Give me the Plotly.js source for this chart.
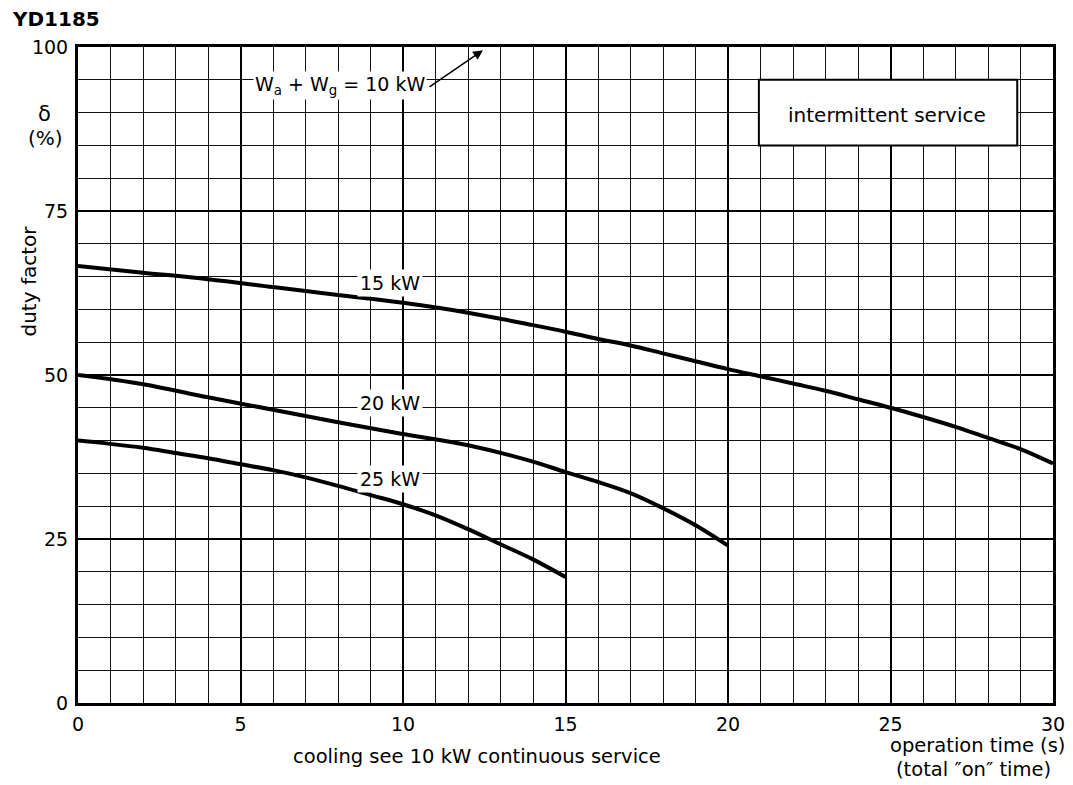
<!DOCTYPE html>
<html>
<head>
<meta charset="utf-8">
<script src="https://cdn.plot.ly/plotly-3.0.1.min.js"></script>
<style>html,body{margin:0;padding:0;background:#fff;}#chart{width:1073px;height:785px;}</style>
</head>
<body>
<div id="chart"></div>
<script>
// operation time (s) and duty factor (%) per curve
const seriesNames = ["15 kW", "20 kW", "25 kW"];
const time15 = [0, 2, 4, 6, 8, 10, 12, 14, 15, 16, 17, 18, 19, 20, 21, 22, 23, 24, 25, 26, 27, 28, 29, 30];
const duty15 = [66.6, 65.6, 64.6, 63.4, 62.2, 61.0, 59.5, 57.6, 56.6, 55.5, 54.5, 53.3, 52.1, 50.9, 49.8, 48.7, 47.6, 46.3, 45.0, 43.6, 42.1, 40.4, 38.7, 36.5];
const time20 = [0, 2, 4, 6, 8, 10, 12, 14, 15, 16, 17, 18, 19, 20];
const duty20 = [50.0, 48.6, 46.6, 44.7, 42.8, 41.0, 39.3, 36.8, 35.2, 33.7, 32.0, 29.7, 27.1, 24.0];
const time25 = [0, 1, 2, 3, 4, 5, 6, 7, 8, 9, 10, 11, 12, 13, 14, 15];
const duty25 = [40.0, 39.5, 38.9, 38.1, 37.3, 36.4, 35.5, 34.4, 33.1, 31.7, 30.3, 28.6, 26.5, 24.2, 21.9, 19.2];
const xTickVals = [0, 5, 10, 15, 20, 25, 30];
const yTickVals = [0, 25, 50, 75, 100];

const FONT = "DejaVu Sans";
const lineStyle = {color: "black", width: 4, shape: "spline", smoothing: 1};

const traces = [
  {x: time15, y: duty15, name: seriesNames[0], mode: "lines", line: lineStyle},
  {x: time20, y: duty20, name: seriesNames[1], mode: "lines", line: lineStyle},
  {x: time25, y: duty25, name: seriesNames[2], mode: "lines", line: lineStyle}
];

function pxX(px){ return (px - 78) / 975; }
function pxY(py){ return (703 - py) / 656; }

const layout = {
  width: 1073, height: 785,
  margin: {l: 78, r: 20, t: 47, b: 82, pad: 0},
  paper_bgcolor: "white", plot_bgcolor: "white",
  showlegend: false,
  font: {family: FONT, size: 19, color: "black"},
  xaxis: {
    range: [0, 30], tickvals: xTickVals, ticktext: xTickVals.map(String),
    showgrid: true, gridcolor: "black", gridwidth: 2,
    minor: {dtick: 1, tick0: 0, showgrid: true, gridcolor: "#111", gridwidth: 1},
    showline: true, mirror: true, linecolor: "black", linewidth: 3,
    zeroline: false, ticks: "", ticklabelstandoff: 2,
    tickfont: {family: FONT, size: 19, color: "black"}, fixedrange: true
  },
  yaxis: {
    range: [0, 100], tickvals: yTickVals, ticktext: yTickVals.map(String),
    showgrid: true, gridcolor: "black", gridwidth: 2,
    minor: {dtick: 5, tick0: 0, showgrid: true, gridcolor: "#111", gridwidth: 1},
    showline: true, mirror: true, linecolor: "black", linewidth: 3,
    zeroline: false, ticks: "", ticklabelstandoff: 3,
    tickfont: {family: FONT, size: 19, color: "black"}, fixedrange: true
  },
  shapes: [
    {type: "rect", xref: "x", yref: "y", x0: 20.95, x1: 28.9, y0: 85, y1: 95,
     fillcolor: "white", line: {color: "black", width: 2}, layer: "above"}
  ],
  annotations: [
    {xref: "paper", yref: "paper", x: pxX(10), y: pxY(19.5), xanchor: "left", yanchor: "middle",
     text: "<b>YD1185</b>", showarrow: false, font: {family: FONT, size: 20, color: "black"}},
    {xref: "paper", yref: "paper", x: pxX(44), y: pxY(114), xanchor: "center", yanchor: "middle",
     text: "δ", showarrow: false, font: {family: FONT, size: 21}},
    {xref: "paper", yref: "paper", x: pxX(45.5), y: pxY(138), xanchor: "center", yanchor: "middle",
     text: "(%)", showarrow: false, font: {family: FONT, size: 20}},
    {xref: "paper", yref: "paper", x: pxX(28.5), y: pxY(281), xanchor: "center", yanchor: "middle",
     text: "duty factor", textangle: -90, showarrow: false, font: {family: FONT, size: 20}},
    {xref: "paper", yref: "paper", x: pxX(477), y: pxY(756), xanchor: "center", yanchor: "middle",
     text: "cooling see 10 kW continuous service", showarrow: false, font: {family: FONT, size: 19.5}},
    {xref: "paper", yref: "paper", x: pxX(1067), y: pxY(746), xanchor: "right", yanchor: "middle",
     text: "operation time (s)", showarrow: false, font: {family: FONT, size: 19.5}},
    {xref: "paper", yref: "paper", x: pxX(973), y: pxY(769), xanchor: "center", yanchor: "middle",
     text: "(total ″on″ time)", showarrow: false, font: {family: FONT, size: 19.5}},
    {xref: "x", yref: "y", x: 24.9, y: 89.6, xanchor: "center", yanchor: "middle",
     text: "intermittent service", showarrow: false, font: {family: FONT, size: 20}},
    {xref: "x", yref: "y", x: 9.6, y: 64.0, xanchor: "center", yanchor: "middle",
     text: "15 kW", showarrow: false, bgcolor: "white", borderpad: 2, font: {family: FONT, size: 19}},
    {xref: "x", yref: "y", x: 9.6, y: 45.7, xanchor: "center", yanchor: "middle",
     text: "20 kW", showarrow: false, bgcolor: "white", borderpad: 2, font: {family: FONT, size: 19}},
    {xref: "x", yref: "y", x: 9.6, y: 34.1, xanchor: "center", yanchor: "middle",
     text: "25 kW", showarrow: false, bgcolor: "white", borderpad: 2, font: {family: FONT, size: 19}},
    {xref: "x", yref: "y", x: 10.75, y: 94.1, xanchor: "right", yanchor: "middle",
     text: "W<sub>a</sub> + W<sub>g</sub> = 10 kW", showarrow: false, bgcolor: "white", borderpad: 1,
     font: {family: FONT, size: 19}},
    {xref: "x", yref: "y", x: 12.46, y: 99.5, axref: "x", ayref: "y", ax: 10.77, ay: 93.75,
     text: "", showarrow: true, arrowhead: 2, arrowsize: 1.3, arrowwidth: 1.5, arrowcolor: "black", standoff: 0}
  ]
};

Plotly.newPlot("chart", traces, layout, {displayModeBar: false, staticPlot: true});
</script>
</body>
</html>
